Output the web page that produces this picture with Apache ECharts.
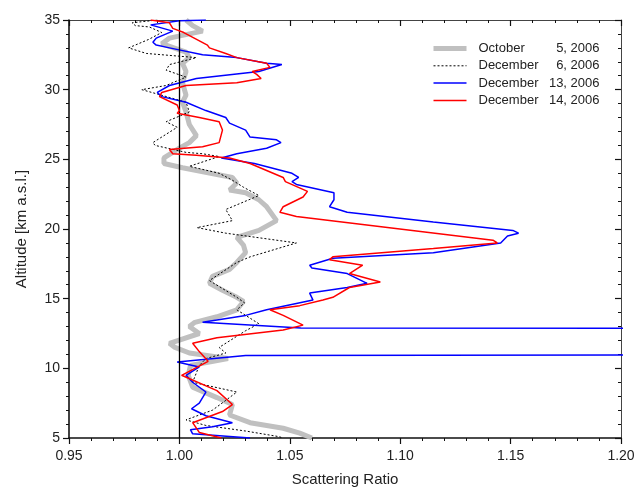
<!DOCTYPE html>
<html>
<head>
<meta charset="utf-8">
<title>Scattering Ratio</title>
<script src="https://cdn.jsdelivr.net/npm/echarts/dist/echarts.min.js"></script>
<style>
  html, body { margin: 0; padding: 0; background: #fff; }
  #chart { width: 637px; height: 487px; }
</style>
</head>
<body>
<div id="chart"></div>
<script>
// [scattering ratio, altitude km], top to bottom
var oct5 = [[1.003,35.0],[1.006,34.6],[1.0105,34.2],[0.9955,33.7],[0.992,33.3],[1.003,32.7],[1.0045,32.3],[1.0014,31.9],[1.003,31.3],[1.0014,30.5],[1.003,29.6],[1.0014,29.1],[1.003,28.4],[1.0045,27.5],[1.0077,26.7],[1.0045,26.2],[1.000,25.8],[0.993,25.1],[0.993,24.7],[1.0014,24.4],[1.024,23.7],[1.026,23.3],[1.0227,22.8],[1.030,22.6],[1.036,22.1],[1.0395,21.6],[1.044,20.6],[1.036,19.9],[1.026,19.4],[1.029,18.85],[1.030,18.3],[1.026,17.6],[1.0227,17.1],[1.015,16.6],[1.0136,16.1],[1.0195,15.6],[1.026,15.1],[1.029,14.8],[1.026,14.2],[1.017,13.7],[1.007,13.3],[1.0045,13.0],[1.009,12.5],[0.9955,11.8],[0.998,11.5],[1.0045,11.1],[1.022,10.7],[1.005,10.2],[1.004,9.5],[1.006,8.65],[1.017,7.9],[1.024,7.4],[1.0227,6.65],[1.032,6.1],[1.047,5.7],[1.0545,5.35],[1.060,5.0]];

var dec6 = [[0.990,35.0],[0.9786,34.8],[0.980,34.6],[0.9864,34.5],[0.992,34.1],[0.986,33.6],[0.977,33.0],[0.985,32.6],[1.0077,32.3],[0.9955,31.8],[0.994,31.4],[1.003,30.9],[0.994,30.3],[0.983,30.0],[0.992,29.6],[1.003,29.1],[1.0045,28.4],[0.994,27.7],[0.999,27.3],[0.988,26.2],[0.989,26.0],[1.003,25.5],[1.0105,25.4],[1.018,25.2],[1.0045,24.5],[1.018,24.0],[1.024,23.5],[1.029,23.0],[1.036,22.4],[1.021,21.4],[1.024,20.6],[1.008,20.1],[1.021,19.7],[1.053,19.0],[1.032,18.0],[1.026,17.6],[1.0136,16.3],[1.026,15.1],[1.0295,14.7],[1.026,14.2],[1.036,13.2],[1.030,12.7],[1.018,11.5],[1.021,11.1],[1.012,10.7],[1.009,10.2],[1.006,9.0],[1.026,8.3],[1.021,7.7],[1.015,7.0],[1.003,6.3],[1.012,5.9],[1.030,5.5],[1.045,5.1],[1.047,5.0]];

var dec13 = [[1.012,35.0],[1.000,34.95],[0.987,34.65],[0.997,34.2],[0.9895,33.7],[0.988,33.4],[0.9895,33.2],[0.9955,33.0],[1.0105,32.5],[1.026,32.3],[1.0395,31.9],[1.0464,31.8],[1.036,31.3],[1.0077,30.8],[0.9955,30.3],[0.990,29.8],[0.992,29.5],[1.003,29.1],[1.012,28.5],[1.021,28.0],[1.0227,27.6],[1.030,27.1],[1.032,26.6],[1.044,26.4],[1.046,26.2],[1.0395,25.8],[1.026,25.4],[1.019,25.1],[1.034,24.7],[1.051,24.0],[1.054,23.7],[1.051,23.4],[1.053,23.2],[1.070,22.6],[1.070,22.1],[1.068,21.6],[1.076,21.2],[1.115,20.5],[1.151,19.9],[1.1536,19.7],[1.1486,19.5],[1.1455,19.0],[1.115,18.3],[1.0695,17.9],[1.059,17.4],[1.060,17.2],[1.076,16.8],[1.085,16.1],[1.076,15.8],[1.059,15.4],[1.0605,14.9],[1.0395,14.2],[1.030,13.8],[1.0105,13.3],[1.055,12.9],[1.35,12.85],[1.35,11.0],[1.03,10.92],[0.999,10.45],[1.009,10.1],[1.003,9.5],[1.006,9.0],[1.012,8.3],[1.009,7.5],[1.0055,7.1],[1.012,6.6],[1.024,6.1],[1.015,5.8],[1.005,5.6],[1.006,5.3],[1.032,5.0]];

var dec14 = [[0.987,35.0],[0.9955,34.8],[0.997,34.4],[1.002,34.1],[1.0127,33.2],[1.0136,33.0],[1.021,32.6],[1.026,32.3],[1.0395,31.9],[1.041,31.6],[1.033,31.3],[1.035,31.1],[1.037,30.8],[1.026,30.5],[1.003,30.3],[0.992,29.8],[0.991,29.5],[0.999,28.9],[1.000,28.5],[0.999,28.3],[1.009,28.0],[1.018,27.7],[1.0195,27.1],[1.018,26.2],[1.0105,25.9],[0.9955,25.7],[0.997,25.4],[1.0077,25.3],[1.0227,25.1],[1.032,24.7],[1.047,23.7],[1.048,23.4],[1.058,22.7],[1.056,22.3],[1.047,21.6],[1.0455,21.2],[1.053,20.9],[1.142,19.2],[1.144,19.0],[1.115,18.6],[1.0695,18.0],[1.068,17.8],[1.083,17.4],[1.077,16.8],[1.091,16.2],[1.077,15.8],[1.0695,15.1],[1.065,14.9],[1.0545,14.5],[1.041,14.2],[1.047,13.8],[1.056,13.1],[1.047,12.75],[1.017,12.2],[1.006,11.8],[1.009,11.2],[1.013,10.5],[1.001,9.5],[1.017,8.4],[1.024,7.4],[1.0195,6.9],[1.006,6.1],[1.009,5.4],[1.019,5.0]];

var seriesNames = ['October 5, 2006', 'December 6, 2006', 'December 13, 2006', 'December 14, 2006'];
var xTicks = [0.95, 1.20, 0.05];
var yTicks = [5, 35, 5];

var font = 'Liberation Sans, Arial, sans-serif';

function axisBase(pos) {
  var outer = (pos === 'bottom' || pos === 'left');
  return {
    type: 'value',
    position: pos,
    axisLine: { show: true, onZero: false, lineStyle: { color: outer ? '#111' : '#444', width: outer ? 1.6 : 1 } },
    axisTick: { show: true, inside: !outer, length: 6, lineStyle: { color: '#111', width: 1.2 } },
    minorTick: { show: true, splitNumber: 5, length: 3, lineStyle: { color: '#111', width: 1 } },
    splitLine: { show: false },
    axisLabel: { show: outer, color: '#222', fontFamily: font, fontSize: 14 }
  };
}

var xBottom = axisBase('bottom');
xBottom.min = xTicks[0]; xBottom.max = xTicks[1]; xBottom.interval = xTicks[2];
xBottom.axisLabel.formatter = function (v) { return v.toFixed(2); };
xBottom.axisLabel.margin = 11;
xBottom.name = 'Scattering Ratio';
xBottom.nameLocation = 'middle';
xBottom.nameGap = 34;
xBottom.nameTextStyle = { color: '#222', fontFamily: font, fontSize: 15 };

var xTop = axisBase('top');
xTop.min = xTicks[0]; xTop.max = xTicks[1]; xTop.interval = xTicks[2];

var yLeft = axisBase('left');
yLeft.min = yTicks[0]; yLeft.max = yTicks[1]; yLeft.interval = yTicks[2];
yLeft.axisLabel.margin = 9;
yLeft.name = 'Altitude [km a.s.l.]';
yLeft.nameLocation = 'middle';
yLeft.nameGap = 40;
yLeft.nameTextStyle = { color: '#222', fontFamily: font, fontSize: 15 };

var yRight = axisBase('right');
yRight.min = yTicks[0]; yRight.max = yTicks[1]; yRight.interval = yTicks[2];

function lineSeries(name, data, color, width, type, z) {
  return {
    name: name,
    type: 'line',
    data: data,
    showSymbol: false,
    symbol: 'none',
    clip: true,
    z: z,
    lineStyle: { color: color, width: width, type: type },
    itemStyle: { color: color },
    animation: false
  };
}

var s0 = lineSeries(seriesNames[0], oct5, '#c0c0c0', 5, 'solid', 2);
var s1 = lineSeries(seriesNames[1], dec6, '#000', 1, [2, 2], 3);
var s2 = lineSeries(seriesNames[2], dec13, '#0000ff', 1.5, 'solid', 4);
var s3 = lineSeries(seriesNames[3], dec14, '#ff0000', 1.5, 'solid', 5);
s3.markLine = {
  silent: true,
  symbol: 'none',
  label: { show: false },
  lineStyle: { color: '#000', width: 1.3, type: 'solid' },
  data: [{ xAxis: 1.0 }],
  animation: false
};

var legendItems = [
  { name: seriesNames[0], lineStyle: { width: 5, color: '#c0c0c0' } },
  { name: seriesNames[1], lineStyle: { width: 1, type: [2, 2], color: '#000' } },
  { name: seriesNames[2], lineStyle: { width: 1.5, color: '#0000ff' } },
  { name: seriesNames[3], lineStyle: { width: 1.5, color: '#ff0000' } }
];

var myChart = echarts.init(document.getElementById('chart'));
myChart.setOption({
  backgroundColor: '#fff',
  animation: false,
  grid: { left: 69, right: 16, top: 20, bottom: 49, outerBoundsMode: 'none', containLabel: false },
  legend: {
    show: true,
    data: legendItems,
    orient: 'vertical',
    left: 426,
    top: 37,
    itemWidth: 33,
    itemHeight: 12,
    itemGap: 4.3,
    itemStyle: { opacity: 0 },
    formatter: function (name) {
      var i = name.indexOf(' ');
      return '{m|' + name.slice(0, i) + '}{d|' + name.slice(i + 1) + '}';
    },
    textStyle: {
      fontFamily: font,
      fontSize: 13,
      color: '#222',
      rich: {
        m: { width: 71, fontFamily: font, fontSize: 13, color: '#222', padding: [0, 0, 0, 7] },
        d: { width: 50, align: 'right', fontFamily: font, fontSize: 13, color: '#222' }
      }
    }
  },
  xAxis: [xBottom, xTop],
  yAxis: [yLeft, yRight],
  series: [s0, s1, s2, s3]
});
</script>
</body>
</html>
